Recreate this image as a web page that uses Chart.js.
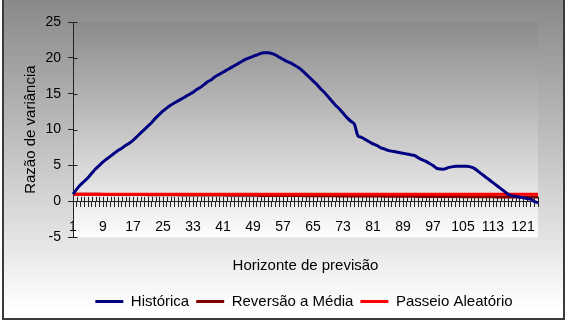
<!DOCTYPE html>
<html lang="pt">
<head>
<meta charset="UTF-8">
<title>Razão de variância</title>
<script src="https://cdn.jsdelivr.net/npm/chart.js"></script>
<style>
  html, body { margin: 0; padding: 0; background: #fff; }
</style>
</head>
<body>
<canvas id="razaoChart" width="570" height="329"></canvas>

<script>
  // horizonte de previsão (1..125)
  var horizontes = [
    1, 2, 3, 4, 5, 6, 7, 8, 9, 10, 11, 12, 13, 14, 15, 16, 17, 18, 19, 20, 21, 22, 23, 24, 25,
    26, 27, 28, 29, 30, 31, 32, 33, 34, 35, 36, 37, 38, 39, 40, 41, 42, 43, 44, 45, 46, 47, 48, 49, 50,
    51, 52, 53, 54, 55, 56, 57, 58, 59, 60, 61, 62, 63, 64, 65, 66, 67, 68, 69, 70, 71, 72, 73, 74, 75,
    76, 77, 78, 79, 80, 81, 82, 83, 84, 85, 86, 87, 88, 89, 90, 91, 92, 93, 94, 95, 96, 97, 98, 99, 100,
    101, 102, 103, 104, 105, 106, 107, 108, 109, 110, 111, 112, 113, 114, 115, 116, 117, 118, 119, 120, 121, 122, 123, 124, 125
  ];

  // rótulos mostrados no eixo x
  var rotulosX = ['1', '9', '17', '25', '33', '41', '49', '57', '65', '73', '81', '89', '97', '105', '113', '121'];

  var historica = [
    1.0, 1.7, 2.3, 2.8, 3.3, 3.9, 4.5, 5.0, 5.5, 5.9, 6.3, 6.7, 7.1, 7.4, 7.8, 8.1, 8.5, 9.0, 9.5, 10.0, 10.5, 11.0, 11.6, 12.1, 12.6,
    13.0, 13.4, 13.7, 14.0, 14.3, 14.6, 14.9, 15.2, 15.6, 15.9, 16.3, 16.7, 17.0, 17.4, 17.7, 18.0, 18.3, 18.6, 18.9, 19.2, 19.5, 19.8, 20.0, 20.2, 20.4,
    20.6, 20.7, 20.7, 20.6, 20.4, 20.1, 19.8, 19.5, 19.3, 19.0, 18.7, 18.3, 17.8, 17.3, 16.8, 16.3, 15.7, 15.2, 14.6, 14.0, 13.4, 12.9, 12.3, 11.7, 11.2,
    10.8, 9.1, 8.9, 8.6, 8.3, 8.0, 7.8, 7.5, 7.3, 7.1, 7.0, 6.9, 6.8, 6.7, 6.6, 6.5, 6.4, 6.1, 5.8, 5.6, 5.3, 5.0, 4.6, 4.5, 4.5,
    4.7, 4.8, 4.9, 4.9, 4.9, 4.9, 4.8, 4.6, 4.2, 3.8, 3.4, 3.0, 2.6, 2.2, 1.8, 1.4, 1.0, 0.8, 0.7, 0.6, 0.5, 0.4, 0.3, 0.0, -0.2
  ];

  var reversaoMedia = [
    1.00, 1.00, 0.99, 0.99, 0.99, 0.98, 0.98, 0.98, 0.97, 0.97, 0.97, 0.96, 0.96, 0.96, 0.95, 0.95, 0.95, 0.94, 0.94, 0.94, 0.93, 0.93, 0.93, 0.92, 0.92,
    0.92, 0.91, 0.91, 0.91, 0.90, 0.90, 0.90, 0.89, 0.89, 0.89, 0.88, 0.88, 0.88, 0.87, 0.87, 0.87, 0.86, 0.86, 0.86, 0.85, 0.85, 0.85, 0.84, 0.84, 0.84,
    0.83, 0.83, 0.83, 0.82, 0.82, 0.82, 0.81, 0.81, 0.81, 0.80, 0.80, 0.80, 0.79, 0.79, 0.79, 0.78, 0.78, 0.78, 0.77, 0.77, 0.77, 0.76, 0.76, 0.76, 0.75,
    0.75, 0.75, 0.74, 0.74, 0.74, 0.73, 0.73, 0.73, 0.72, 0.72, 0.72, 0.71, 0.71, 0.71, 0.70, 0.70, 0.70, 0.69, 0.69, 0.69, 0.68, 0.68, 0.68, 0.67, 0.67,
    0.67, 0.66, 0.66, 0.66, 0.65, 0.65, 0.65, 0.64, 0.64, 0.64, 0.63, 0.63, 0.63, 0.62, 0.62, 0.62, 0.61, 0.61, 0.61, 0.60, 0.60, 0.60, 0.59, 0.59, 0.59
  ];

  var passeioAleatorio = [
    1, 1, 1, 1, 1, 1, 1, 1, 1, 1, 1, 1, 1, 1, 1, 1, 1, 1, 1, 1, 1, 1, 1, 1, 1,
    1, 1, 1, 1, 1, 1, 1, 1, 1, 1, 1, 1, 1, 1, 1, 1, 1, 1, 1, 1, 1, 1, 1, 1, 1,
    1, 1, 1, 1, 1, 1, 1, 1, 1, 1, 1, 1, 1, 1, 1, 1, 1, 1, 1, 1, 1, 1, 1, 1, 1,
    1, 1, 1, 1, 1, 1, 1, 1, 1, 1, 1, 1, 1, 1, 1, 1, 1, 1, 1, 1, 1, 1, 1, 1, 1,
    1, 1, 1, 1, 1, 1, 1, 1, 1, 1, 1, 1, 1, 1, 1, 1, 1, 1, 1, 1, 1, 1, 1, 1, 1
  ];

  var fonteEixo = { family: 'Liberation Sans, Arial, sans-serif', size: 14 };
  var fonteTitulo = { family: 'Liberation Sans, Arial, sans-serif', size: 15 };

  // fundo em degradê, moldura e a metade interna das marcas dos eixos
  var fundo = {
    id: 'fundo',
    beforeDraw: function(chart) {
      var c = chart.ctx, a = chart.chartArea;
      c.save();
      c.fillStyle = '#ffffff';
      c.fillRect(0, 0, chart.width, chart.height);
      var g = c.createLinearGradient(0, 0, 0, 310);
      g.addColorStop(0, '#898989');
      g.addColorStop(1, '#ffffff');
      c.fillStyle = g;
      c.fillRect(3, 0, 561, 319);
      var g2 = c.createLinearGradient(0, a.top, 0, a.bottom);
      g2.addColorStop(0, '#8b8b8b');
      g2.addColorStop(1, '#fdfdfd');
      c.fillStyle = g2;
      c.fillRect(a.left, a.top, a.right - a.left, a.bottom - a.top);
      c.strokeStyle = '#3a3a3a';
      c.lineWidth = 2;
      c.strokeRect(3, -2, 561, 321);
      c.restore();
    },
    beforeDatasetsDraw: function(chart) {
      var c = chart.ctx, xs = chart.scales.x, ys = chart.scales.y;
      var y0 = ys.getPixelForValue(0);
      c.save();
      c.strokeStyle = '#222';
      c.lineWidth = 1;
      c.beginPath();
      for (var i = 0; i < xs.ticks.length; i++) {
        var px = Math.round(xs.getPixelForTick(i)) + 0.5;
        c.moveTo(px, y0 - 4.5);
        c.lineTo(px, y0);
      }
      for (var j = 0; j < ys.ticks.length; j++) {
        var py = Math.round(ys.getPixelForTick(j)) + 0.5;
        c.moveTo(ys.right, py);
        c.lineTo(ys.right + 4.5, py);
      }
      c.stroke();
      c.restore();
    }
  };

  var ctx = document.getElementById('razaoChart').getContext('2d');

  new Chart(ctx, {
    type: 'line',
    data: {
      labels: horizontes,
      datasets: [{
        label: 'Histórica',
        data: historica,
        borderColor: '#000080',
        backgroundColor: '#000080',
        borderWidth: 3,
        pointRadius: 0,
        tension: 0.3,
        order: 0,
        yAxisID: 'y'
      }, {
        label: 'Reversão a Média',
        data: reversaoMedia,
        borderColor: '#800000',
        backgroundColor: '#800000',
        borderWidth: 3,
        pointRadius: 0,
        order: 2,
        yAxisID: 'y'
      }, {
        label: 'Passeio Aleatório',
        data: passeioAleatorio,
        borderColor: '#ff0000',
        backgroundColor: '#ff0000',
        borderWidth: 3,
        pointRadius: 0,
        order: 1,
        yAxisID: 'y'
      }]
    },
    options: {
      responsive: false,
      animation: false,
      layout: { padding: { top: 22, left: 38, right: 0, bottom: 10 } },
      plugins: {
        tooltip: { enabled: false },
        legend: {
          position: 'bottom',
          title: { display: true, text: '', font: fonteEixo, padding: { top: 33, bottom: 0 } },
          labels: {
            font: fonteTitulo,
            color: '#000',
            usePointStyle: true,
            pointStyle: 'line',
            pointStyleWidth: 28,
            padding: 7,
            sort: function(a, b) { return a.datasetIndex - b.datasetIndex; }
          }
        }
      },
      scales: {
        x: {
          type: 'category',
          position: { y: 0 },
          offset: false,
          grid: { display: true, drawOnChartArea: false, drawTicks: true, tickLength: 5, color: '#222' },
          border: { display: true, color: '#222', width: 1 },
          ticks: {
            autoSkip: false,
            maxRotation: 0,
            padding: 12,
            color: '#000',
            font: fonteEixo,
            callback: function(value, index) {
              var r = String(horizontes[index]);
              return rotulosX.indexOf(r) >= 0 ? r : '';
            }
          },
          title: {
            display: true,
            text: 'Horizonte de previsão',
            color: '#000',
            font: fonteTitulo,
            padding: { top: 10, bottom: 0 }
          }
        },
        y: {
          position: 'left',
          min: -5,
          max: 25,
          grid: { display: true, drawOnChartArea: false, drawTicks: true, tickLength: 5, color: '#222' },
          border: { display: true, color: '#222', width: 1 },
          ticks: { stepSize: 5, padding: 7, color: '#000', font: fonteEixo },
          title: {
            display: true,
            text: 'Razão de variância',
            color: '#000',
            font: fonteTitulo,
            padding: { top: -16, bottom: 0 }
          },
          afterFit: function(s) { s.width = 35; }
        },
        margemDireita: {
          type: 'linear',
          position: 'right',
          display: true,
          grid: { display: false },
          border: { display: false },
          ticks: { display: false },
          afterFit: function(s) { s.width = 32; }
        }
      }
    },
    plugins: [fundo]
  });
</script>
</body>
</html>
